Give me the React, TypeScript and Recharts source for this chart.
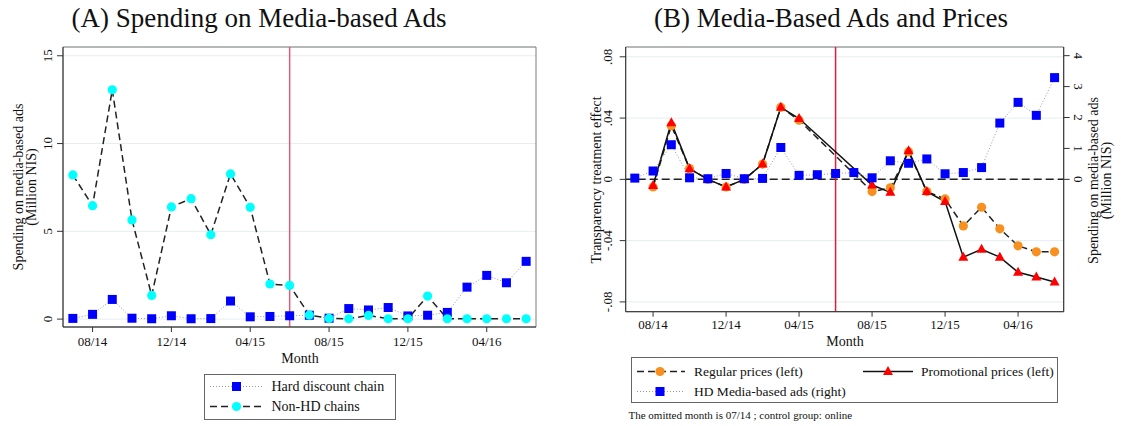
import React from "react";
import { LineChart, Line, XAxis, YAxis, CartesianGrid, ReferenceLine, ReferenceArea } from "recharts";

const FONT = "'Liberation Serif', 'Times New Roman', serif";

const months = [
  "07/14", "08/14", "09/14", "10/14", "11/14", "12/14", "01/15", "02/15",
  "03/15", "04/15", "05/15", "06/15", "07/15", "08/15", "09/15", "10/15",
  "11/15", "12/15", "01/16", "02/16", "03/16", "04/16", "05/16", "06/16",
];
const monthTicks = [1, 5, 9, 13, 17, 21];

// million NIS
const hdAds = [
  0.04, 0.27, 1.12, 0.05, 0.02, 0.19, 0.02, 0.03, 1.03, 0.13, 0.15, 0.19,
  0.22, 0.05, 0.6, 0.52, 0.66, 0.18, 0.22, 0.38, 1.82, 2.49, 2.07, 3.29,
];
const nonHdAds = [
  8.21, 6.46, 13.06, 5.65, 1.35, 6.39, 6.86, 4.81, 8.27, 6.37, 2.0, 1.92,
  0.23, 0.04, 0.02, 0.21, 0.02, 0.02, 1.31, 0.02, 0.02, 0.02, 0.02, 0.02,
];

// treatment effects (07/14 omitted)
const regularPrices = [
  null, -0.005, 0.035, 0.007, 0, -0.005, 0, 0.01, 0.047, 0.0386, null, null,
  null, -0.008, -0.0055, 0.018, -0.008, -0.0128, -0.0304, -0.0182, -0.0323, -0.0434, -0.0473, -0.0473,
];
const promoPrices = [
  null, -0.004, 0.037, 0.007, 0, -0.005, 0, 0.01, 0.047, 0.0397, null, null,
  null, -0.0037, -0.0085, 0.0187, -0.008, -0.0145, -0.0508, -0.0456, -0.0508, -0.0607, -0.0638, -0.067,
];

const leftTicks = [0, 5, 10, 15];
const effectTicks = [-0.08, -0.04, 0, 0.04, 0.08];
const rightTicks = [0, 1, 2, 3, 4];

const spendingData = months.map((m, i) => ({ i, month: m, hd: hdAds[i], nonHd: nonHdAds[i] }));
const pricesData = months.map((m, i) => ({
  i,
  month: m,
  regular: regularPrices[i],
  promo: promoPrices[i],
  hd: hdAds[i],
}));

const fmtEffect = (v: number) => {
  if (v === 0) return "0";
  const s = Math.abs(v).toFixed(2).replace(/^0/, "");
  return v < 0 ? "-" + s : s;
};

const RotTick = (props: any) => {
  const { x, y, payload, angle, fmt } = props;
  return (
    <text
      x={x}
      y={y}
      transform={`rotate(${angle} ${x} ${y})`}
      textAnchor="middle"
      fontSize={13}
      fontFamily={FONT}
      fill="#111"
    >
      {fmt ? fmt(payload.value) : payload.value}
    </text>
  );
};

const squareDot = (props: any) => {
  const { cx, cy, index } = props;
  if (cx == null || cy == null) return <g key={`sq-${index}`} />;
  return <rect key={`sq-${index}`} x={cx - 4.5} y={cy - 4.5} width={9} height={9} fill="#0000ff" />;
};

const cyanDot = (props: any) => {
  const { cx, cy, index } = props;
  if (cx == null || cy == null) return <g key={`cy-${index}`} />;
  return <circle key={`cy-${index}`} cx={cx} cy={cy} r={4.6} fill="#00ffff" />;
};

const orangeDot = (props: any) => {
  const { cx, cy, index } = props;
  if (cx == null || cy == null || props.value == null) return <g key={`or-${index}`} />;
  return <circle key={`or-${index}`} cx={cx} cy={cy} r={4.6} fill="#f7901e" />;
};

const triangleDot = (props: any) => {
  const { cx, cy, index } = props;
  if (cx == null || cy == null || props.value == null) return <g key={`tr-${index}`} />;
  return (
    <polygon
      key={`tr-${index}`}
      points={`${cx},${cy - 5.5} ${cx - 5},${cy + 3.5} ${cx + 5},${cy + 3.5}`}
      fill="#ff0000"
    />
  );
};

const xTickStyle = { fontSize: 13, fontFamily: FONT, fill: "#111" };

function SpendingChart() {
  return (
    <LineChart
      width={560}
      height={370}
      data={spendingData}
      margin={{ top: 47, right: 24, left: 23, bottom: 25 }}
    >
      <CartesianGrid vertical={false} stroke="#e5eef0" />
      <XAxis
        dataKey="i"
        type="number"
        domain={[-0.5, 23.5]}
        ticks={monthTicks}
        tickFormatter={(v: number) => months[v]}
        tick={xTickStyle}
        tickSize={5}
        tickMargin={5}
        height={18}
        stroke="#333"
        interval={0}
      />
      <YAxis
        type="number"
        domain={[-0.45, 15.5]}
        allowDataOverflow
        ticks={leftTicks}
        width={40}
        tickSize={6}
        tickMargin={4.5}
        stroke="#333"
        interval={0}
        tick={(p: any) => <RotTick {...p} angle={-90} />}
      />
      <ReferenceArea x1={-0.5} x2={23.5} y1={-0.45} y2={15.5} fill="none" stroke="#7a7a7a" />
      <ReferenceLine x={11} stroke="#d6607c" strokeWidth={1.5} />
      <Line
        dataKey="hd"
        stroke="#9a9a9a"
        strokeDasharray="1 2"
        strokeWidth={1}
        dot={squareDot}
        activeDot={false}
        isAnimationActive={false}
      />
      <Line
        dataKey="nonHd"
        stroke="#222"
        strokeDasharray="7 4"
        strokeWidth={1.5}
        dot={cyanDot}
        activeDot={false}
        isAnimationActive={false}
      />
    </LineChart>
  );
}

function PricesChart() {
  return (
    <LineChart
      width={561}
      height={345}
      data={pricesData}
      margin={{ top: 47, right: 17.3, left: 25.7, bottom: 15.3 }}
    >
      <CartesianGrid vertical={false} stroke="#e5eef0" yAxisId="left" />
      <XAxis
        dataKey="i"
        type="number"
        domain={[-0.5, 23.5]}
        ticks={monthTicks}
        tickFormatter={(v: number) => months[v]}
        tick={xTickStyle}
        tickSize={5}
        tickMargin={3}
        height={18}
        stroke="#333"
        interval={0}
      />
      <YAxis
        yAxisId="left"
        type="number"
        domain={[-0.0864, 0.0864]}
        allowDataOverflow
        ticks={effectTicks}
        width={40}
        tickSize={6}
        tickMargin={7.4}
        stroke="#333"
        interval={0}
        tick={(p: any) => <RotTick {...p} angle={-90} fmt={fmtEffect} />}
      />
      <YAxis
        yAxisId="right"
        orientation="right"
        type="number"
        domain={[-4.28, 4.28]}
        allowDataOverflow
        ticks={rightTicks}
        width={40}
        tickSize={6}
        tickMargin={4}
        stroke="#333"
        interval={0}
        tick={(p: any) => <RotTick {...p} angle={90} />}
      />
      <ReferenceArea
        yAxisId="left"
        x1={-0.5}
        x2={23.5}
        y1={-0.0864}
        y2={0.0864}
        fill="none"
        stroke="#7a7a7a"
      />
      <ReferenceLine yAxisId="left" y={0} stroke="#222" strokeDasharray="8 4" strokeWidth={1.5} />
      <ReferenceLine yAxisId="left" x={11} stroke="#dc1f3f" strokeWidth={1.5} />
      <Line
        yAxisId="left"
        dataKey="regular"
        stroke="#222"
        strokeDasharray="7 4"
        strokeWidth={1.5}
        dot={orangeDot}
        activeDot={false}
        connectNulls
        isAnimationActive={false}
      />
      <Line
        yAxisId="left"
        dataKey="promo"
        stroke="#111"
        strokeWidth={1.5}
        dot={triangleDot}
        activeDot={false}
        connectNulls
        isAnimationActive={false}
      />
      <Line
        yAxisId="right"
        dataKey="hd"
        stroke="#9a9a9a"
        strokeDasharray="1 2"
        strokeWidth={1}
        dot={squareDot}
        activeDot={false}
        isAnimationActive={false}
      />
    </LineChart>
  );
}

function Overlay() {
  const t = { fontFamily: FONT, fill: "#111" };
  return (
    <svg
      width={1121}
      height={426}
      style={{ position: "absolute", left: 0, top: 0, pointerEvents: "none" }}
    >
      <text x={259} y={27} fontSize={27} textAnchor="middle" {...t}>
        (A) Spending on Media-based Ads
      </text>
      <text x={831} y={27} fontSize={27} textAnchor="middle" {...t}>
        (B) Media-Based Ads and Prices
      </text>

      {/* axis titles */}
      <text x={22.5} y={187} fontSize={14} textAnchor="middle" transform="rotate(-90 22.5 187)" {...t}>
        Spending on media-based ads
      </text>
      <text x={35.5} y={187} fontSize={14} textAnchor="middle" transform="rotate(-90 35.5 187)" {...t}>
        (Million NIS)
      </text>
      <text x={300} y={363} fontSize={14} textAnchor="middle" {...t}>
        Month
      </text>

      <text x={601} y={180} fontSize={14} textAnchor="middle" transform="rotate(-90 601 180)" {...t}>
        Transparency treatment effect
      </text>
      <text x={1097.5} y={180.5} fontSize={14} textAnchor="middle" transform="rotate(-90 1097.5 180.5)" {...t}>
        Spending on media-based ads
      </text>
      <text x={1111} y={180.5} fontSize={14} textAnchor="middle" transform="rotate(-90 1111 180.5)" {...t}>
        (Million NIS)
      </text>
      <text x={845} y={346} fontSize={14} textAnchor="middle" {...t}>
        Month
      </text>

      {/* legend A */}
      <rect x={204.5} y={374.5} width={191} height={45} fill="#fff" stroke="#666" />
      <line x1={210} y1={386.5} x2={262} y2={386.5} stroke="#9a9a9a" strokeDasharray="1 2" />
      <rect x={232} y={382} width={9} height={9} fill="#0000ff" />
      <text x={271.5} y={391} fontSize={14} {...t}>Hard discount chain</text>
      <line x1={210} y1={406.5} x2={262} y2={406.5} stroke="#222" strokeDasharray="7 4" strokeWidth={1.5} />
      <circle cx={236.5} cy={406.5} r={4.6} fill="#00ffff" />
      <text x={271.5} y={411} fontSize={14} {...t}>Non-HD chains</text>

      {/* legend B */}
      <rect x={631.5} y={357.5} width={426} height={45} fill="#fff" stroke="#666" />
      <line x1={637} y1={371.5} x2={685} y2={371.5} stroke="#222" strokeDasharray="7 4" strokeWidth={1.5} />
      <circle cx={660} cy={371.5} r={4.6} fill="#f7901e" />
      <text x={694} y={376} fontSize={13.5} {...t}>Regular prices (left)</text>
      <line x1={863} y1={371.5} x2={913} y2={371.5} stroke="#111" strokeWidth={1.5} />
      <polygon points="888,366 883,375 893,375" fill="#ff0000" />
      <text x={921} y={376} fontSize={13.5} {...t}>Promotional prices (left)</text>
      <line x1={637} y1={391.5} x2={685} y2={391.5} stroke="#9a9a9a" strokeDasharray="1 2" />
      <rect x={655.5} y={387} width={9} height={9} fill="#0000ff" />
      <text x={694} y={396} fontSize={13.5} {...t}>HD Media-based ads (right)</text>

      <text x={628.5} y={419} fontSize={11} {...t}>
        The omitted month is 07/14 ; control group: online
      </text>
    </svg>
  );
}

export default function App() {
  return (
    <div
      style={{
        position: "absolute",
        left: 0,
        top: 0,
        width: 1121,
        height: 426,
        background: "#fff",
        fontFamily: FONT,
        overflow: "hidden",
      }}
    >
      <div style={{ position: "absolute", left: 0, top: 0 }}>
        <SpendingChart />
      </div>
      <div style={{ position: "absolute", left: 560, top: 0 }}>
        <PricesChart />
      </div>
      <Overlay />
    </div>
  );
}
